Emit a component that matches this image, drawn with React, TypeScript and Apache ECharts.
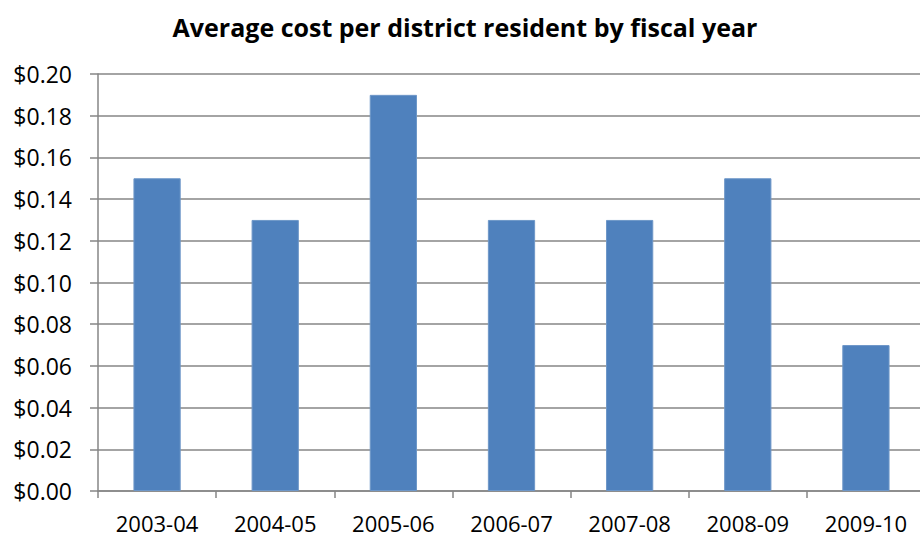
import React, { useEffect, useRef } from "react";
import * as echarts from "echarts";

const categories = ["2003-04", "2004-05", "2005-06", "2006-07", "2007-08", "2008-09", "2009-10"];
const costs = [0.15, 0.13, 0.19, 0.13, 0.13, 0.15, 0.07];
const titleText = "Average cost per district resident by fiscal year";

export default function App() {
  const ref = useRef<HTMLDivElement>(null);
  useEffect(() => {
    if (!ref.current) return;
    const chart = echarts.init(ref.current, null, { renderer: "svg" });
    const axisColor = "#868686";
    chart.setOption({
      animation: false,
      backgroundColor: "#ffffff",
      title: {
        text: titleText,
        left: 460,
        textAlign: "center",
        top: 7,
        textStyle: { fontFamily: "Open Sans", fontWeight: "bold", fontSize: 25, color: "#000", lineHeight: 30 },
      },
      grid: { left: 98, right: 5, top: 74, bottom: 47, containLabel: false },
      xAxis: {
        type: "category",
        data: categories,
        boundaryGap: true,
        axisLine: { show: true, lineStyle: { color: axisColor, width: 1.5 } },
        axisTick: { show: true, alignWithLabel: false, length: 7, lineStyle: { color: axisColor, width: 1.5 } },
        axisLabel: { margin: 22, fontFamily: "Open Sans", fontSize: 22, lineHeight: 20, color: "#000", interval: 0 },
        splitLine: { show: false },
      },
      yAxis: {
        type: "value",
        min: 0,
        max: 0.2,
        interval: 0.02,
        axisLine: { show: true, lineStyle: { color: axisColor, width: 1.5 } },
        axisTick: { show: true, length: 8, lineStyle: { color: axisColor, width: 1.5 } },
        axisLabel: {
          margin: 26,
          fontFamily: "Open Sans",
          fontSize: 23,
          color: "#000",
          formatter: (v: number) => "$" + v.toFixed(2),
        },
        splitLine: { show: true, lineStyle: { color: axisColor, width: 1.5 } },
      },
      series: [
        {
          type: "bar",
          data: costs,
          barWidth: "40%",
          itemStyle: { color: "#4F81BD", borderColor: "#6E97C8", borderWidth: 1 },
        },
      ],
    });
    return () => chart.dispose();
  }, []);
  return (
    <div
      ref={ref}
      style={{ position: "fixed", left: 0, top: 0, width: 930, height: 538, background: "#fff" }}
    />
  );
}
